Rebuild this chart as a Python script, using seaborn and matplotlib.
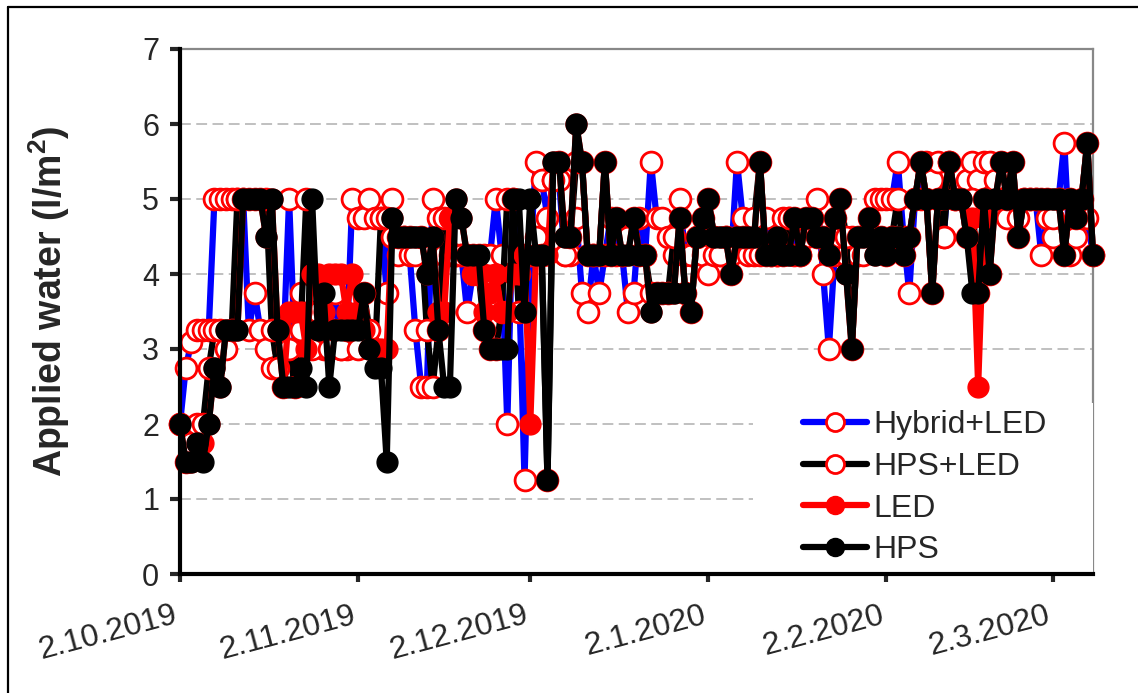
import numpy as np
import pandas as pd
import matplotlib
matplotlib.use("Agg")
import matplotlib.pyplot as plt
import matplotlib.transforms as mtransforms
import seaborn as sns
from matplotlib.lines import Line2D
from matplotlib.patches import Rectangle

# ---------------- data (daily values, 2.10.2019 -> 9.3.2020) ----------------
start_date = "2019-10-02"
n_days = 160

hybrid_led = [
    2.0, 2.75, 3.1, 3.25, 3.25, 3.25, 5.0, 5.0, 5.0, 5.0,
    5.0, 5.0, 3.25, 3.75, 3.25, 3.0, 2.75, 3.25, 3.0, 5.0,
    3.0, 3.75, 3.25, 3.5, 3.25, 3.0, 3.25, 3.75, 3.0, 3.0,
    5.0, 4.75, 4.75, 5.0, 4.75, 4.75, 3.75, 5.0, 4.25, 4.5,
    4.25, 3.25, 2.5, 2.5, 5.0, 4.75, 4.25, 4.25, 4.25, 4.25,
    3.5, 4.0, 4.25, 4.25, 4.25, 5.0, 4.25, 2.0, 5.0, 4.0,
    1.25, 4.25, 5.5, 5.25, 4.75, 5.25, 5.25, 4.25, 4.25, 4.75,
    3.75, 3.5, 4.25, 3.75, 4.25, 4.75, 4.25, 4.25, 3.5, 3.75,
    4.75, 4.25, 5.5, 4.75, 4.75, 4.5, 4.25, 5.0, 4.25, 4.25,
    4.5, 4.25, 4.0, 4.25, 4.25, 4.5, 4.25, 5.5, 4.75, 4.25,
    4.25, 4.25, 4.75, 4.25, 4.25, 4.75, 4.75, 4.25, 4.25, 4.5,
    4.75, 5.0, 4.0, 3.0, 4.25, 4.5, 4.25, 4.5, 4.25, 4.5,
    4.5, 5.0, 5.0, 5.0, 5.0, 5.5, 4.5, 3.75, 5.0, 5.0,
    5.5, 5.25, 5.5, 4.5, 5.5, 5.0, 5.0, 5.25, 5.5, 5.25,
    5.5, 5.5, 5.0, 5.0, 4.75, 5.0, 4.75, 5.0, 5.0, 5.0,
    4.25, 4.75, 4.5, 5.0, 5.75, 4.25, 4.5, 4.75, 4.75, 4.25,
]

hps_led = [
    2.0, 1.5, 1.75, 2.0, 2.0, 2.75, 3.25, 3.25, 3.0, 3.25,
    5.0, 5.0, 5.0, 5.0, 5.0, 5.0, 3.25, 2.75, 2.5, 3.0,
    2.5, 3.25, 5.0, 3.0, 3.5, 3.25, 3.0, 3.25, 3.0, 3.25,
    3.25, 3.0, 3.75, 3.25, 3.0, 4.75, 4.75, 4.5, 4.5, 4.5,
    4.5, 4.25, 4.5, 3.25, 2.5, 3.25, 4.75, 4.75, 4.25, 4.25,
    4.25, 4.25, 4.0, 3.25, 3.0, 3.0, 3.5, 5.0, 5.0, 3.5,
    4.25, 4.25, 4.5, 4.25, 1.25, 5.25, 5.5, 4.25, 4.5, 5.5,
    5.5, 4.25, 4.25, 4.25, 5.5, 4.25, 4.75, 4.25, 4.5, 4.75,
    4.25, 4.25, 3.75, 3.75, 3.75, 3.75, 4.5, 4.75, 3.75, 3.5,
    4.5, 4.75, 5.0, 4.5, 4.25, 4.5, 4.0, 4.5, 4.5, 4.5,
    4.75, 5.5, 4.25, 4.25, 4.25, 4.25, 4.75, 4.75, 4.25, 4.75,
    4.75, 4.5, 4.5, 4.25, 4.75, 5.0, 4.5, 3.0, 4.5, 4.25,
    4.75, 4.5, 4.5, 4.25, 4.5, 5.0, 4.25, 4.5, 5.0, 5.5,
    5.0, 3.75, 5.0, 4.5, 5.5, 5.0, 5.0, 4.5, 5.0, 3.75,
    5.0, 4.0, 5.25, 5.5, 5.0, 5.5, 4.5, 5.0, 5.0, 5.0,
    5.0, 5.0, 4.75, 5.0, 4.25, 5.0, 4.75, 5.0, 5.75, 4.25,
]

led = [
    2.0, 1.5, 1.5, 1.75, 1.75, 2.0, 2.75, 2.5, 3.25, 3.25,
    3.25, 5.0, 5.0, 5.0, 5.0, 4.5, 5.0, 3.25, 2.5, 3.5,
    3.5, 3.5, 3.0, 4.0, 4.0, 3.5, 4.0, 4.0, 4.0, 3.5,
    4.0, 3.5, 3.25, 3.0, 3.0, 3.0, 3.0, 4.75, 4.5, 4.5,
    4.5, 4.5, 4.5, 4.0, 4.5, 3.5, 3.5, 4.75, 5.0, 4.75,
    4.25, 4.0, 4.0, 3.5, 3.75, 4.0, 3.5, 3.5, 4.0, 4.0,
    4.25, 2.0, 4.25, 4.25, 4.25, 5.5, 5.5, 4.5, 4.5, 6.0,
    5.5, 4.25, 4.25, 4.25, 5.5, 4.25, 4.75, 4.25, 4.25, 4.75,
    4.25, 4.25, 3.5, 3.75, 3.75, 3.75, 3.75, 4.75, 3.75, 3.5,
    4.5, 4.75, 5.0, 4.5, 4.5, 4.5, 4.0, 4.5, 4.5, 4.5,
    4.5, 5.5, 4.25, 4.25, 4.5, 4.25, 4.25, 4.75, 4.25, 4.75,
    4.75, 4.5, 4.5, 4.25, 4.75, 5.0, 4.0, 3.0, 4.5, 4.5,
    4.75, 4.25, 4.5, 4.25, 4.5, 4.5, 4.25, 4.5, 5.0, 5.5,
    5.0, 3.75, 5.0, 5.0, 5.5, 5.0, 5.0, 4.5, 4.75, 2.5,
    4.75, 4.0, 5.0, 5.5, 5.0, 5.5, 4.5, 5.0, 5.0, 5.0,
    5.0, 5.0, 5.0, 5.0, 4.25, 5.0, 4.75, 5.0, 5.75, 4.25,
]

hps = [
    2.0, 1.5, 1.5, 1.75, 1.5, 2.0, 2.75, 2.5, 3.25, 3.25,
    3.25, 5.0, 5.0, 5.0, 5.0, 4.5, 5.0, 3.25, 2.5, 2.5,
    2.5, 2.75, 2.5, 5.0, 3.25, 3.75, 2.5, 3.25, 3.25, 3.25,
    3.25, 3.25, 3.75, 3.0, 2.75, 2.75, 1.5, 4.75, 4.5, 4.5,
    4.5, 4.5, 4.5, 4.0, 4.5, 3.25, 2.5, 2.5, 5.0, 4.75,
    4.25, 4.25, 4.25, 3.25, 3.0, 3.0, 3.0, 3.0, 5.0, 5.0,
    3.5, 5.0, 4.25, 4.25, 1.25, 5.5, 5.5, 4.5, 4.5, 6.0,
    5.5, 4.25, 4.25, 4.25, 5.5, 4.25, 4.75, 4.25, 4.25, 4.75,
    4.25, 4.25, 3.5, 3.75, 3.75, 3.75, 3.75, 4.75, 3.75, 3.5,
    4.5, 4.75, 5.0, 4.5, 4.5, 4.5, 4.0, 4.5, 4.5, 4.5,
    4.5, 5.5, 4.25, 4.25, 4.5, 4.25, 4.25, 4.75, 4.25, 4.75,
    4.75, 4.5, 4.5, 4.25, 4.75, 5.0, 4.0, 3.0, 4.5, 4.5,
    4.75, 4.25, 4.5, 4.25, 4.5, 4.5, 4.25, 4.5, 5.0, 5.5,
    5.0, 3.75, 5.0, 5.0, 5.5, 5.0, 5.0, 4.5, 3.75, 3.75,
    5.0, 4.0, 5.0, 5.5, 5.0, 5.5, 4.5, 5.0, 5.0, 5.0,
    5.0, 5.0, 5.0, 5.0, 4.25, 5.0, 4.75, 5.0, 5.75, 4.25,
]

series_names = ["Hybrid+LED", "HPS+LED", "LED", "HPS"]
tick_dates = ["2019-10-02", "2019-11-02", "2019-12-02", "2020-01-02", "2020-02-02", "2020-03-02"]
tick_labels = ["2.10.2019", "2.11.2019", "2.12.2019", "2.1.2020", "2.2.2020", "2.3.2020"]
y_ticks = [0, 1, 2, 3, 4, 5, 6, 7]
y_label = "Applied water (l/m$^{\\mathregular{2}}$)"

# ---------------- styling ----------------
sns.set_style("white")
plt.rcParams["font.family"] = ["Liberation Sans", "DejaVu Sans"]
plt.rcParams["mathtext.fontset"] = "custom"
plt.rcParams["mathtext.rm"] = "Liberation Sans"
plt.rcParams["mathtext.bf"] = "Liberation Sans:bold"

dates = pd.date_range(start_date, periods=n_days, freq="D")
df = pd.DataFrame({"date": dates,
                   series_names[0]: hybrid_led,
                   series_names[1]: hps_led,
                   series_names[2]: led,
                   series_names[3]: hps})

W, H = 1138, 693
fig = plt.figure(figsize=(W / 100, H / 100), dpi=100)
fig.patch.set_facecolor("white")
ax = fig.add_axes([180 / W, 1 - 574 / H, (1093 - 180) / W, (574 - 49) / H])

styles = {
    "Hybrid+LED": dict(color="#0000FF", mfc="white", mec="#FF0000", mew=2.0, zorder=2),
    "HPS+LED": dict(color="black", mfc="white", mec="#FF0000", mew=2.0, zorder=3),
    "LED": dict(color="#FF0000", mfc="#FF0000", mec="#FF0000", mew=1.0, zorder=4),
    "HPS": dict(color="black", mfc="black", mec="black", mew=1.0, zorder=5),
}

for name in series_names:
    st = styles[name]
    sns.lineplot(data=df, x="date", y=name, ax=ax, color=st["color"],
                 linewidth=4.5, marker="o", markersize=15,
                 markerfacecolor=st["mfc"], markeredgecolor=st["mec"],
                 markeredgewidth=st["mew"], zorder=st["zorder"],
                 clip_on=False, legend=False)

ax.set_xlim(pd.Timestamp(start_date), dates[-1])
ax.set_ylim(0, 7)
ax.set_yticks(y_ticks)
ax.set_yticklabels([str(v) for v in y_ticks])
ax.set_xticks(pd.to_datetime(tick_dates))
ax.set_xticklabels(tick_labels, rotation=15, ha="right", va="top",
                   rotation_mode="anchor")
ax.tick_params(axis="y", labelsize=22, length=7, width=3, direction="out",
               pad=8, left=True)
ax.tick_params(axis="x", labelsize=23, length=6, width=3, direction="out",
               pad=13, bottom=True)
offset = mtransforms.ScaledTranslation(-5 / 72, 0, fig.dpi_scale_trans)
for lbl in ax.get_xticklabels():
    lbl.set_transform(lbl.get_transform() + offset)

ax.yaxis.grid(True, color="#BBBBBB", linestyle=(0, (6, 3)), linewidth=1.3)
ax.xaxis.grid(False)
ax.set_axisbelow(True)

for side in ["left", "bottom"]:
    ax.spines[side].set_color("black")
    ax.spines[side].set_linewidth(3)
    ax.spines[side].set_zorder(10)
for side in ["top", "right"]:
    ax.spines[side].set_color("#888888")
    ax.spines[side].set_linewidth(1.6)

ax.set_xlabel("")
ax.set_ylabel(y_label, fontsize=27, fontweight="bold")
ax.yaxis.set_label_coords(-0.118, 0.52)

# white legend area covering the lower right of the plot
ax.add_patch(Rectangle(((753 - 180) / 913, 0), 1 - (753 - 180) / 913,
                       (574 - 403) / 525, transform=ax.transAxes,
                       facecolor="white", edgecolor="none", zorder=8,
                       clip_on=False))

handles = []
for name in series_names:
    st = styles[name]
    handles.append(Line2D([], [], color=st["color"], linewidth=4.5, marker="o",
                          markersize=13, markerfacecolor=st["mfc"],
                          markeredgecolor=st["mec"], markeredgewidth=st["mew"]))
leg = ax.legend(handles, series_names, loc="upper left",
                bbox_to_anchor=((803 - 180) / 913, (574 - 410) / 525),
                frameon=False, fontsize=23, handlelength=2.0,
                handletextpad=0.2, labelspacing=0.37, borderpad=0,
                borderaxespad=0)
leg.set_zorder(9)

# outer frame lines (left and top)
fig.add_artist(Line2D([8 / W, 8 / W], [0, 1 - 7 / H], color="black",
                      linewidth=1.6, transform=fig.transFigure))
fig.add_artist(Line2D([8 / W, 1], [1 - 7 / H, 1 - 7 / H], color="black",
                      linewidth=1.6, transform=fig.transFigure))

fig.savefig("out.png", dpi=100, facecolor="white")
